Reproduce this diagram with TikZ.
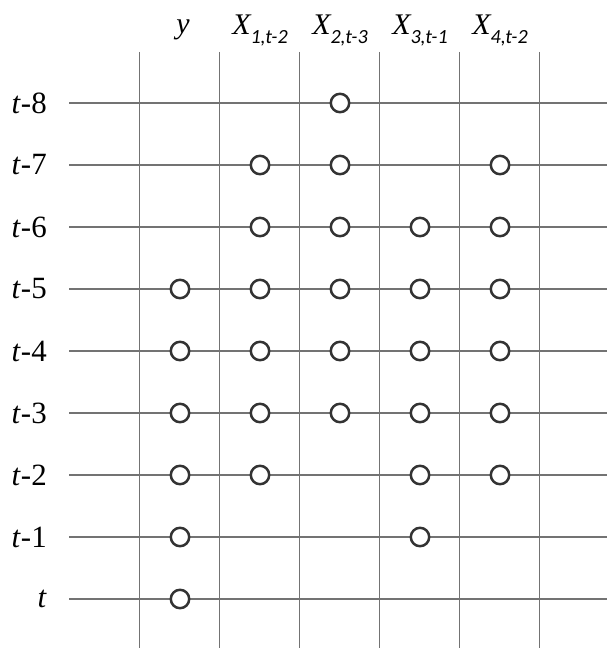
\documentclass[tikz,border=0pt]{standalone}
\usepackage{fontspec}
\setmainfont{Liberation Serif}
\newfontfamily\subfont{Carlito}
\usetikzlibrary{positioning}
\tikzset{
  gridline/.style={draw=black!55, line width=0.3mm},
  lagdot/.style={circle, draw=black!80, fill=white, line width=0.62mm, minimum size=4.6mm, inner sep=0pt},
  rowlabel/.style={anchor=east, inner sep=0pt, font=\fontsize{22}{24}\selectfont},
  collabel/.style={anchor=base, inner sep=0pt, font=\fontsize{21.3}{24}\selectfont}
}
\newcommand{\hdsub}[2]{{\itshape #1\raisebox{-2.25mm}{\subfont\itshape\fontsize{14.3}{15}\selectfont #2}}}

\begin{document}
\begin{tikzpicture}[x=0.25mm, y=-0.25mm]
\useasboundingbox (0,0) rectangle (607,648);
\foreach \lab [count=\i from 0] in {\textit{t}-8,\textit{t}-7,\textit{t}-6,\textit{t}-5,\textit{t}-4,\textit{t}-3,\textit{t}-2,\textit{t}-1,\textit{t}} {
  \node[rowlabel] (row\i) at (47,103+62*\i) {\lab};
  \coordinate (rw\i) at (69,103+62*\i);
  \coordinate (re\i) at (607,103+62*\i);
  \draw[gridline] (rw\i) -- (re\i);
}
\foreach \k in {0,...,5} {
  \coordinate (vt\k) at (139.5+80*\k,52);
  \coordinate (vb\k) at (139.5+80*\k,648);
  \draw[gridline] (vt\k) -- (vb\k);
}
\node[collabel] (hy) at (183,34) {\textit{y}};
\node[collabel] (hx1) at (260,35) {\hdsub{X}{1,t-2}};
\node[collabel] (hx2) at (340,35) {\hdsub{X}{2,t-3}};
\node[collabel] (hx3) at (420,35) {\hdsub{X}{3,t-1}};
\node[collabel] (hx4) at (500,35) {\hdsub{X}{4,t-2}};
\foreach \r/\cols in {0/{2},1/{1,2,4},2/{1,2,3,4},3/{0,1,2,3,4},4/{0,1,2,3,4},5/{0,1,2,3,4},6/{0,1,3,4},7/{0,3},8/{0}} {
  \foreach \c in \cols {
    \node[lagdot] (c\c r\r) at (180+80*\c,103+62*\r) {};
  }
}
\end{tikzpicture}
\end{document}
